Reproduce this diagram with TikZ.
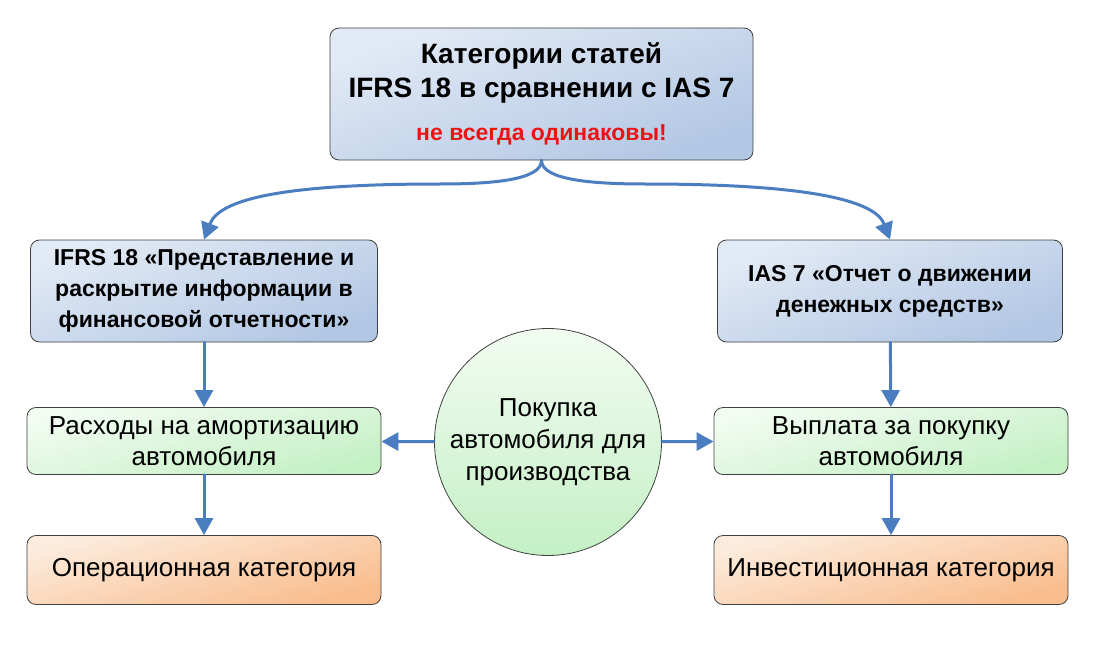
\documentclass[tikz,border=0pt]{standalone}
\usepackage{fontspec}
\setmainfont{Liberation Sans}
\usepackage{tikz}
\usetikzlibrary{arrows.meta}

\definecolor{arrowblue}{RGB}{74,126,193}
\definecolor{boxline}{RGB}{64,64,64}
\definecolor{bluelight}{RGB}{226,234,245}
\definecolor{bluedark}{RGB}{178,199,228}
\definecolor{greenlight}{RGB}{242,252,242}
\definecolor{greendark}{RGB}{196,240,196}
\definecolor{orangelight}{RGB}{252,236,222}
\definecolor{orangedark}{RGB}{249,188,140}
\definecolor{alertred}{RGB}{235,20,20}

\tikzset{
  box/.style={draw=boxline, line width=0.8pt, rounded corners=9pt, inner sep=0pt, align=center},
  normbox/.style={box, top color=bluelight, bottom color=bluedark, shading angle=20,
    font=\fontsize{23}{31}\selectfont\bfseries},
  itembox/.style={box, top color=greenlight, bottom color=greendark, shading angle=15,
    minimum width=354pt, minimum height=67pt, font=\fontsize{26}{31}\selectfont},
  catbox/.style={box, top color=orangelight, bottom color=orangedark, shading angle=15,
    minimum width=354pt, minimum height=69pt, font=\fontsize{26}{31}\selectfont},
  link/.style={arrowblue, line width=3pt, -{Triangle[length=17pt,width=18pt]}}
}

\begin{document}
\begin{tikzpicture}[line cap=round,line join=round,x=1pt,y=-1pt]
\useasboundingbox (0,0) rectangle (1100,650);
% top box
\node[box, top color=bluelight, bottom color=bluedark, shading angle=20,
  minimum width=423pt, minimum height=132pt,
  font=\fontsize{28}{34}\selectfont\bfseries] (head) at (541.5,94)
  {Категории статей\\IFRS 18 в сравнении с IAS 7\\[9pt]{\color{alertred}\fontsize{23}{24}\selectfont не всегда одинаковы!}};
% standards
\node[normbox, minimum width=347pt, minimum height=102pt] (ifrs) at (204,291)
  {IFRS 18 «Представление и\\раскрытие информации в\\финансовой отчетности»};
\node[normbox, minimum width=345pt, minimum height=102pt] (ias) at (890,291)
  {IAS 7 «Отчет о движении\\денежных средств»};
% items
\node[itembox] (amort) at (204,441) {Расходы на амортизацию\\автомобиля};
\node[itembox] (pay) at (891,441) {Выплата за покупку\\автомобиля};
% categories
\node[catbox] (oper) at (204,570) {Операционная категория};
\node[catbox] (invest) at (891,570) {Инвестиционная категория};
% purchase
\node[circle, draw=boxline, line width=0.8pt, inner sep=0pt, minimum size=227pt,
  top color=greenlight, bottom color=greendark, align=center,
  font=\fontsize{26}{32}\selectfont] (buy) at (548,442)
  {Покупка\\автомобиля для\\производства};
% connectors
\coordinate (lmid) at (440,184);
\coordinate (rmid) at (645,184);
\draw[link] (head.south) .. controls +(0,20) and +(50,0) .. (lmid)
  .. controls +(-160,0) and +(15,-40) .. (ifrs.north);
\draw[link] (head.south) .. controls +(0,20) and +(-50,0) .. (rmid)
  .. controls +(160,0) and +(-15,-40) .. (ias.north);
\draw[link] (ifrs) -- (amort);
\draw[link] (amort) -- (oper);
\draw[link] (ias) -- (pay);
\draw[link] (pay) -- (invest);
\draw[link] (buy) -- (amort);
\draw[link] (buy) -- (pay);
\end{tikzpicture}
\end{document}
